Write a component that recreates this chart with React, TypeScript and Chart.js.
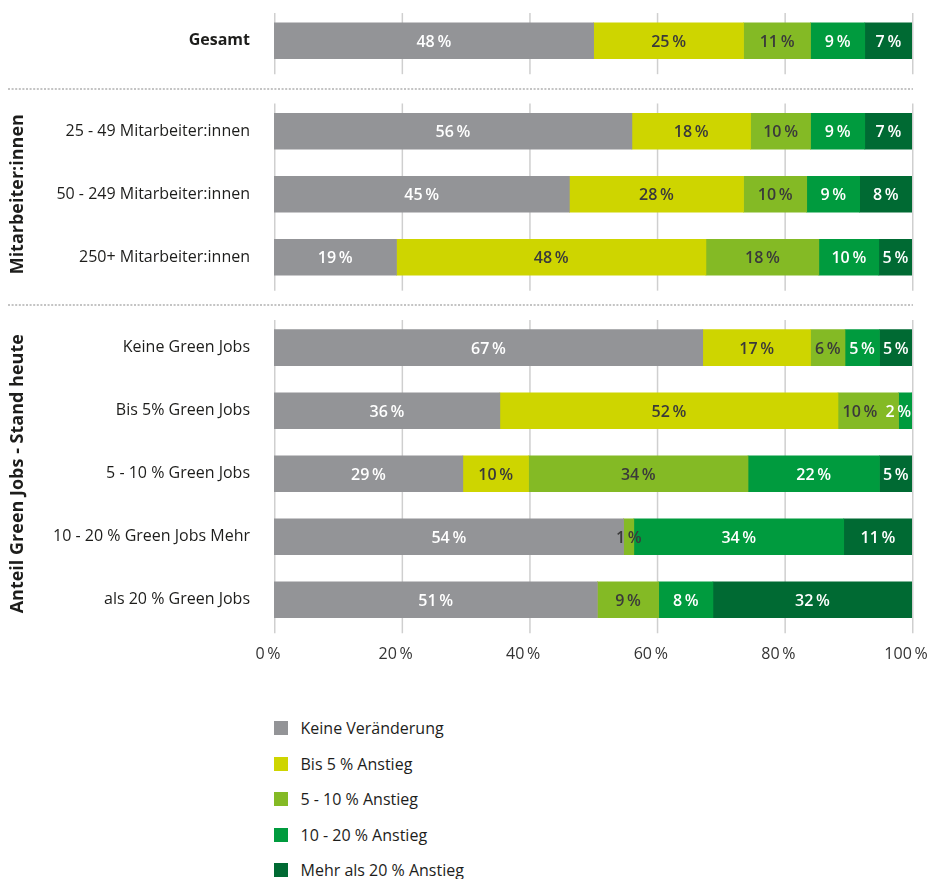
import React, { useEffect, useRef } from "react";
import { Chart, registerables } from "chart.js";

Chart.register(...registerables);

const FONT = "'Open Sans', 'DejaVu Sans', sans-serif";

// ---------- data ----------
const groupTitles = ["", "Mitarbeiter:innen", "Anteil Green Jobs - Stand heute"];
const groupSizes = [1, 3, 5];
const categories = [
  "Gesamt",
  "25 - 49 Mitarbeiter:innen",
  "50 - 249 Mitarbeiter:innen",
  "250+ Mitarbeiter:innen",
  "Keine Green Jobs",
  "Bis 5% Green Jobs",
  "5 - 10 % Green Jobs",
  "10 - 20 % Green Jobs Mehr",
  "als 20 % Green Jobs",
];

const seriesNames = [
  "Keine Veränderung",
  "Bis 5 % Anstieg",
  "5 - 10 % Anstieg",
  "10 - 20 % Anstieg",
  "Mehr als 20 % Anstieg",
];
const seriesColors = ["#939497", "#CED500", "#84BA25", "#009B3E", "#006A33"];
const labelColors = ["#ffffff", "#3a3a3a", "#3a3a3a", "#ffffff", "#ffffff"];

// bar lengths (as drawn)
const keineVeraenderung = [50.1, 56.1, 46.3, 19.2, 67.2, 35.4, 29.6, 54.8, 50.7];
const bis5Anstieg = [23.5, 18.6, 27.3, 48.5, 16.9, 53.0, 10.3, 0, 0];
const von5bis10Anstieg = [10.5, 9.4, 9.9, 17.7, 5.4, 9.5, 34.4, 1.6, 9.6];
const von10bis20Anstieg = [8.5, 8.5, 8.3, 9.4, 5.4, 2.1, 20.6, 32.9, 8.5];
const mehrAls20Anstieg = [7.4, 7.4, 8.2, 5.2, 5.1, 0, 5.1, 10.7, 31.2];

// printed value labels
const keineLabels = [48, 56, 45, 19, 67, 36, 29, 54, 51];
const bis5Labels = [25, 18, 28, 48, 17, 52, 10, null, null];
const von5bis10Labels = [11, 10, 10, 18, 6, 10, 34, 1, 9];
const von10bis20Labels = [9, 9, 9, 10, 5, 2, 22, 34, 8];
const mehrAls20Labels = [7, 7, 8, 5, 5, null, 5, 11, 32];

const xTicks = [0, 20, 40, 60, 80, 100];

const seriesValues = [keineVeraenderung, bis5Anstieg, von5bis10Anstieg, von10bis20Anstieg, mehrAls20Anstieg];
const seriesLabels = [keineLabels, bis5Labels, von5bis10Labels, von10bis20Labels, mehrAls20Labels];

// ---------- layout of rows on a linear index axis ----------
const GROUP_GAP = 0.435;
const GRID_ABOVE = 0.44;
const GRID_BELOW = 0.53;
const rowPositions: number[] = [];
const groupRanges: [number, number][] = [];
(() => {
  let pos = 0;
  groupSizes.forEach((n, gi) => {
    if (gi > 0) pos += GROUP_GAP;
    const start = pos;
    for (let i = 0; i < n; i++) {
      rowPositions.push(pos);
      pos += 1;
    }
    groupRanges.push([start, pos - 1]);
  });
})();

const pct = (v: number) => `${v}\u2009%`;

const noPadding = (scale: any) => {
  scale._calculatePadding = function () {
    this.paddingTop = 0;
    this.paddingBottom = 0;
    this.paddingLeft = 0;
    this.paddingRight = 0;
  };
};

const decorPlugin = {
  id: "decor",
  beforeDatasetsDraw(chart: any) {
    const { ctx } = chart;
    const xs = chart.scales.x;
    const ys = chart.scales.y;
    ctx.save();
    ctx.strokeStyle = "#cfcfcf";
    ctx.lineWidth = 1.5;
    groupRanges.forEach(([a, b]) => {
      const top = ys.getPixelForValue(a - GRID_ABOVE);
      const bottom = ys.getPixelForValue(b + GRID_BELOW);
      xTicks.forEach((t) => {
        const x = xs.getPixelForValue(t) + 0.75;
        ctx.beginPath();
        ctx.moveTo(x, top);
        ctx.lineTo(x, bottom);
        ctx.stroke();
      });
    });
    // dotted separators
    ctx.strokeStyle = "#c4c4c4";
    ctx.lineWidth = 2;
    ctx.setLineDash([2, 1.6]);
    for (let gi = 1; gi < groupRanges.length; gi++) {
      const y1 = ys.getPixelForValue(groupRanges[gi - 1][1] + GRID_BELOW);
      const y2 = ys.getPixelForValue(groupRanges[gi][0] - GRID_ABOVE);
      const y = Math.round((y1 + y2) / 2);
      ctx.beginPath();
      ctx.moveTo(8, y);
      ctx.lineTo(913, y);
      ctx.stroke();
    }
    ctx.setLineDash([]);
    // group titles
    ctx.fillStyle = "#1d1d1b";
    ctx.font = `bold 18px ${FONT}`;
    ctx.textAlign = "center";
    ctx.textBaseline = "middle";
    groupTitles.forEach((t, gi) => {
      if (!t) return;
      const [a, b] = groupRanges[gi];
      const yc = (ys.getPixelForValue(a) + ys.getPixelForValue(b)) / 2;
      ctx.save();
      ctx.translate(18, yc);
      ctx.rotate(-Math.PI / 2);
      ctx.fillText(t, 0, 0);
      ctx.restore();
    });
    ctx.restore();
  },
  afterDatasetsDraw(chart: any) {
    const { ctx, chartArea } = chart;
    ctx.save();
    ctx.font = `600 16px ${FONT}`;
    ctx.textAlign = "center";
    ctx.textBaseline = "middle";
    const nRows = categories.length;
    for (let i = 0; i < nRows; i++) {
      const items: { text: string; cx: number; w: number; y: number; color: string }[] = [];
      chart.data.datasets.forEach((_ds: any, di: number) => {
        const v = seriesLabels[di][i];
        if (v == null) return;
        const bar = chart.getDatasetMeta(di).data[i];
        const { x, base, y } = bar.getProps(["x", "base", "y"], true);
        const text = pct(v);
        const w = ctx.measureText(text).width;
        items.push({ text, cx: (x + base) / 2, w, y, color: labelColors[di] });
      });
      // keep labels inside the plot and apart from each other (right to left)
      let limit = chartArea.right - 1;
      for (let k = items.length - 1; k >= 0; k--) {
        const it = items[k];
        if (it.cx + it.w / 2 > limit) it.cx = limit - it.w / 2;
        limit = it.cx - it.w / 2 - 8;
      }
      items.forEach((it) => {
        ctx.fillStyle = it.color;
        ctx.fillText(it.text, it.cx, it.y + 1.5);
      });
    }
    ctx.restore();
  },
};

export default function App() {
  const ref = useRef<HTMLCanvasElement | null>(null);

  useEffect(() => {
    if (!ref.current) return;
    const chart = new Chart(ref.current, {
      type: "bar",
      data: {
        datasets: seriesNames.map((name, di) => ({
          label: name,
          data: seriesValues[di].map((v, i) => ({ x: v, y: rowPositions[i] })),
          backgroundColor: seriesColors[di],
          borderWidth: 0,
          barThickness: 36,
        })),
      },
      options: {
        indexAxis: "y",
        animation: false,
        responsive: false,
        devicePixelRatio: 1,
        layout: { padding: { top: 8, right: 16, bottom: 1.5, left: 0 } },
        plugins: { legend: { display: false }, tooltip: { enabled: false } },
        scales: {
          x: {
            type: "linear",
            stacked: true,
            offset: false,
            min: 0,
            max: 100,
            afterBuildTicks: (scale: any) => {
              scale.ticks = xTicks.map((v) => ({ value: v }));
            },
            beforeFit: noPadding,
            grid: { display: false, drawTicks: false },
            border: { display: false },
            ticks: {
              callback: (v: any) => pct(v),
              font: { family: FONT, size: 16 },
              color: "#333333",
              padding: 14,
              labelOffset: -6,
              maxRotation: 0,
              autoSkip: false,
            },
          },
          y: {
            type: "linear",
            stacked: true,
            reverse: true,
            offset: false,
            min: -0.52,
            max: rowPositions[rowPositions.length - 1] + 0.5,
            afterBuildTicks: (scale: any) => {
              scale.ticks = rowPositions.map((v) => ({ value: v }));
            },
            beforeFit: noPadding,
            afterFit: (scale: any) => {
              scale.width = 274;
            },
            grid: { display: false, drawTicks: false, offset: false },
            border: { display: false },
            ticks: {
              autoSkip: false,
              padding: 24,
              color: "#1d1d1b",
              callback: (_v: any, i: number) => categories[i],
              font: (c: any) => ({ family: FONT, size: 16, weight: c.index === 0 ? "bold" : "normal" }),
            },
          },
        },
      },
      plugins: [decorPlugin],
    } as any);
    return () => chart.destroy();
  }, []);

  return (
    <div style={{ position: "absolute", left: 0, top: 0, width: 928, height: 879, overflow: "hidden", background: "#fff" }}>
      <canvas ref={ref} width={928} height={680} style={{ display: "block" }} />
      <div style={{ position: "absolute", left: 274, top: 710.25 }}>
        {seriesNames.map((name, i) => (
          <div key={name} style={{ display: "flex", alignItems: "center", height: 35.5 }}>
            <span style={{ display: "inline-block", width: 14, height: 14, background: seriesColors[i], marginRight: 12.5 }} />
            <span style={{ fontFamily: FONT, fontSize: 16, color: "#1d1d1b", whiteSpace: "nowrap" }}>{name}</span>
          </div>
        ))}
      </div>
    </div>
  );
}
